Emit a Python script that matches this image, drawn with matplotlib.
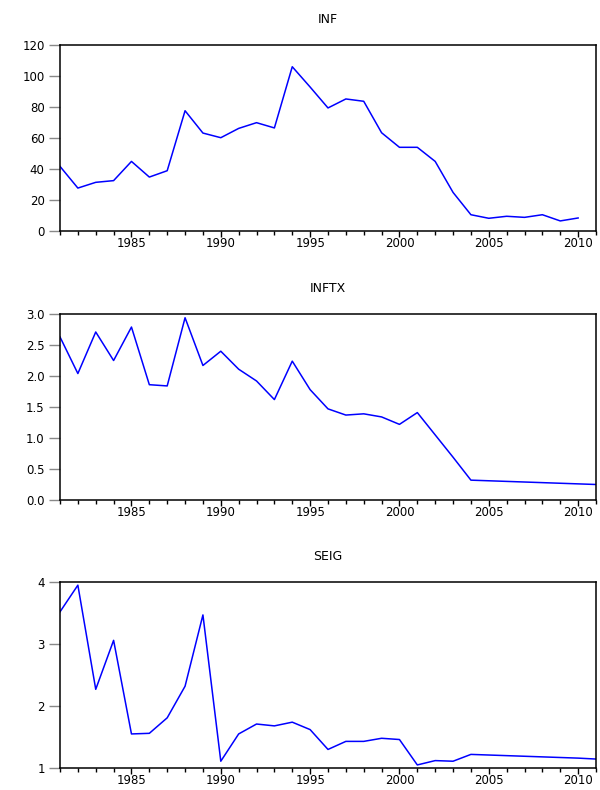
import numpy as np
import matplotlib
matplotlib.use("Agg")
import matplotlib.pyplot as plt
from matplotlib.ticker import MultipleLocator, FormatStrFormatter

# dane
lata = list(range(1981, 2012))

inf = [41.7, 27.7, 31.4, 32.5, 44.9, 34.8, 38.9, 77.6, 63.2, 60.2,
       66.2, 69.9, 66.5, 106.0, 92.9, 79.4, 85.2, 83.7, 63.4, 54.0,
       54.0, 44.9, 24.9, 10.5, 8.2, 9.5, 8.8, 10.5, 6.5, 8.4]   # do 2010

inftx = [2.63, 2.04, 2.71, 2.25, 2.79, 1.86, 1.84, 2.94, 2.17, 2.40,
         2.11, 1.92, 1.62, 2.24, 1.78, 1.47, 1.37, 1.39, 1.34, 1.22,
         1.41, 1.05, 0.69, 0.32, 0.31, 0.30, 0.29, 0.28, 0.27, 0.26, 0.25]

seig = [3.52, 3.95, 2.27, 3.06, 1.55, 1.56, 1.81, 2.32, 3.47, 1.11,
        1.55, 1.71, 1.68, 1.74, 1.62, 1.30, 1.43, 1.43, 1.48, 1.46,
        1.05, 1.12, 1.11, 1.22, 1.21, 1.20, 1.19, 1.18, 1.17, 1.16, 1.145]

tytuly = ["INF", "INFTX", "SEIG"]
serie = [inf, inftx, seig]
zakresy_y = [(0, 120, 20, "%d"), (0, 3.0, 0.5, "%.1f"), (1, 4, 1, "%d")]

plt.rcParams['font.family'] = ['DejaVu Sans']
plt.rcParams['font.size'] = 8.5

fig = plt.figure(figsize=(6.0, 7.9), dpi=100)
pozycje = [0.7076, 0.3671, 0.0278]   # dolne krawedzie paneli

for i in range(3):
    ax = fig.add_axes([0.1, pozycje[i], 0.8933, 0.2354])
    y = serie[i]
    ax.plot(lata[:len(y)], y, color='#0000ff', lw=1.1)
    ax.set_xlim(1981, 2011)
    lo, hi, krok, fmt = zakresy_y[i]
    ax.set_ylim(lo, hi)
    ax.yaxis.set_major_locator(MultipleLocator(krok))
    ax.yaxis.set_major_formatter(FormatStrFormatter(fmt))
    ax.set_xticks([1985, 1990, 1995, 2000, 2005, 2010])
    ax.xaxis.set_minor_locator(MultipleLocator(1))
    ax.tick_params(axis='x', which='major', direction='out', length=4, width=1, pad=0.5)
    ax.tick_params(axis='x', which='minor', direction='out', length=3, width=1)
    ax.tick_params(axis='y', which='major', direction='out', length=8, width=1,
                   color='#888888', pad=3)
    for s in ax.spines.values():
        s.set_linewidth(1.1)
    ax.set_title(tytuly[i], fontsize=9, pad=16)

fig.savefig("out.png", dpi=100)
